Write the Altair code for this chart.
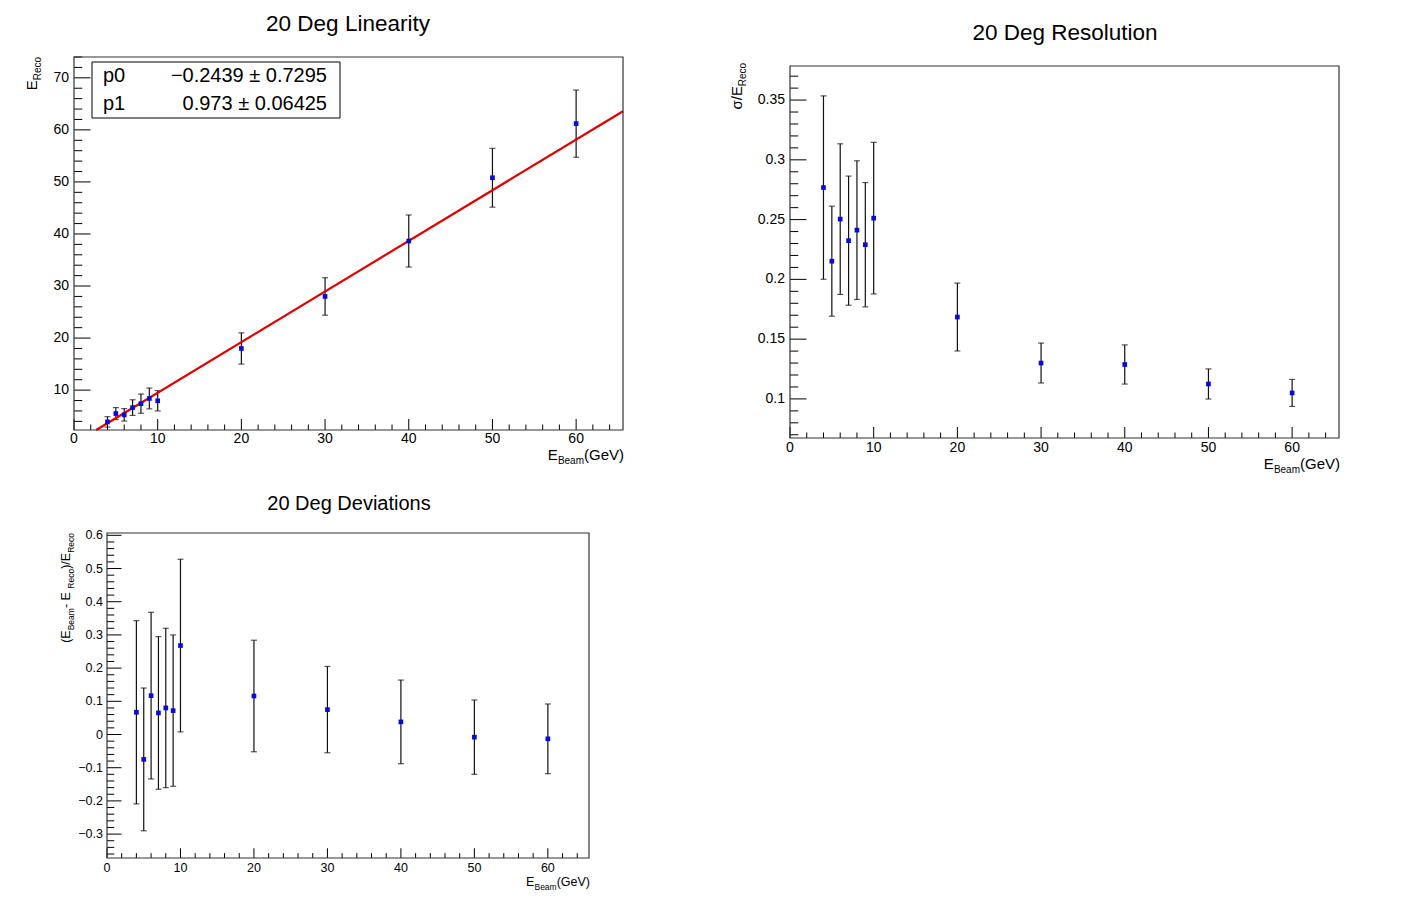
import altair as alt
import pandas as pd

# ---------------- data ----------------
E_BEAM = [4, 5, 6, 7, 8, 9, 10, 20, 30, 40, 50, 60]

LIN_RECO = [3.9, 5.5, 5.25, 6.65, 7.4, 8.4, 7.95, 18.0, 28.0, 38.65, 50.8, 61.2]
LIN_ERR = [1.0, 1.15, 1.2, 1.5, 1.85, 2.0, 1.95, 3.0, 3.6, 5.0, 5.65, 6.45]

RES = [0.2768, 0.2152, 0.2504, 0.2324, 0.2412, 0.229, 0.2512, 0.1685, 0.130, 0.1288, 0.1125, 0.105]
RES_ERR = [0.0767, 0.046, 0.063, 0.054, 0.058, 0.052, 0.0634, 0.0284, 0.0167, 0.0164, 0.0126, 0.0113]

DEV = [0.067, -0.075, 0.117, 0.065, 0.08, 0.072, 0.268, 0.116, 0.075, 0.038, -0.008, -0.013]
DEV_ERR = [0.276, 0.215, 0.251, 0.23, 0.24, 0.228, 0.26, 0.168, 0.13, 0.126, 0.112, 0.105]

FIT_P0, FIT_P0_ERR = -0.2439, 0.7295
FIT_P1, FIT_P1_ERR = 0.973, 0.06425

X_DOMAIN = [0, 65.6]
X_MAJOR = [0, 10, 20, 30, 40, 50, 60]
X_LABELS = ["0", "10", "20", "30", "40", "50", "60"]

LIN_Y_DOMAIN = [2.34, 74.0]
LIN_Y_MAJOR = [10, 20, 30, 40, 50, 60, 70]
LIN_Y_LABELS = ["10", "20", "30", "40", "50", "60", "70"]

RES_Y_DOMAIN = [0.0673, 0.3785]
RES_Y_MAJOR = [0.1, 0.15, 0.2, 0.25, 0.3, 0.35]
RES_Y_LABELS = ["0.1", "0.15", "0.2", "0.25", "0.3", "0.35"]

DEV_Y_DOMAIN = [-0.372, 0.607]
DEV_Y_MAJOR = [-0.3, -0.2, -0.1, 0, 0.1, 0.2, 0.3, 0.4, 0.5, 0.6]
DEV_Y_LABELS = ["\u22120.3", "\u22120.2", "\u22120.1", "0", "0.1", "0.2", "0.3", "0.4", "0.5", "0.6"]

# ---------------- styling helpers ----------------
FONT = "Liberation Sans"
OX, OY = 8, 8
BLUE = "#0a0ad8"
RED = "#e00000"
FRAME = "#333333"

one = pd.DataFrame({"k": [0]})

W = {' ': 0.278, '(': 0.333, ')': 0.333, '/': 0.278, '-': 0.333, 'E': 0.667, 'B': 0.667,
     'R': 0.722, 'G': 0.778, 'V': 0.667, 'e': 0.556, 'a': 0.556, 'm': 0.833, 'c': 0.5,
     'o': 0.556, '\u03c3': 0.6}


def tw(s, size):
    return sum(W.get(ch, 0.556) for ch in s) * size


def px(x):
    return x - OX


def py(y):
    return y - OY


def text_at(x, y, s, size, align="left", baseline="alphabetic", angle=0, color="black"):
    return alt.Chart(one).mark_text(
        text=s, fontSize=size, font=FONT, align=align, baseline=baseline,
        angle=angle, color=color
    ).encode(x=alt.value(px(x)), y=alt.value(py(y)))


def seg_h(segs, x_end, y_base):
    total = sum(tw(t, s) for t, s, _ in segs)
    c = x_end - total
    out = []
    for t, s, sh in segs:
        out.append(text_at(c, y_base + sh, t, s))
        c += tw(t, s)
    return out


def seg_v(segs, x_base, y_top):
    total = sum(tw(t, s) for t, s, _ in segs)
    c = y_top + total
    out = []
    for t, s, sh in segs:
        out.append(text_at(x_base + sh, c, t, s, angle=270))
        c -= tw(t, s)
    return out


def minors(lo, hi, step, majors):
    out = []
    k = 0
    v = round(lo, 6)
    while v <= hi + 1e-9:
        if all(abs(v - m) > 1e-6 for m in majors):
            out.append(v)
        k += 1
        v = round(lo + k * step, 6)
    return out


def panel(frame, ydom, yvals, yerrs, ymaj, ylabs, ystep_minor, ymin_start,
          xtick, ytick, lab_size, xlab_dy, ylab_dx):
    x0, x1, y0, y1 = frame
    xs = alt.Scale(domain=X_DOMAIN, range=[px(x0), px(x1)], nice=False, zero=False)
    ys = alt.Scale(domain=ydom, range=[py(y1), py(y0)], nice=False, zero=False)

    def X(f):
        return alt.X(f, type="quantitative", scale=xs, axis=None)

    def Y(f):
        return alt.Y(f, type="quantitative", scale=ys, axis=None)

    df = pd.DataFrame({"x": E_BEAM, "y": yvals, "e": yerrs})
    df["lo"] = df["y"] - df["e"]
    df["hi"] = df["y"] + df["e"]

    layers = []
    layers.append(alt.Chart(one).mark_rect(fill="white").encode(
        x=alt.value(px(x0)), x2=alt.value(px(x1)), y=alt.value(py(y0)), y2=alt.value(py(y1))))

    # ticks
    xmaj = pd.DataFrame({"v": X_MAJOR, "t": X_LABELS})
    xmin = pd.DataFrame({"v": minors(0, X_DOMAIN[1], 2, X_MAJOR)})
    ymj = pd.DataFrame({"v": ymaj, "t": ylabs})
    ymn = pd.DataFrame({"v": [v for v in minors(ymin_start, ydom[1], ystep_minor, ymaj) if v >= ydom[0]]})

    layers.append(alt.Chart(xmaj).mark_rule(color="black", strokeWidth=1).encode(
        x=X("v"), y=alt.value(py(y1)), y2=alt.value(py(y1) - xtick)))
    layers.append(alt.Chart(xmin).mark_rule(color="black", strokeWidth=1).encode(
        x=X("v"), y=alt.value(py(y1)), y2=alt.value(py(y1) - xtick / 2)))
    layers.append(alt.Chart(ymj).mark_rule(color="black", strokeWidth=1).encode(
        y=Y("v"), x=alt.value(px(x0)), x2=alt.value(px(x0) + ytick)))
    layers.append(alt.Chart(ymn).mark_rule(color="black", strokeWidth=1).encode(
        y=Y("v"), x=alt.value(px(x0)), x2=alt.value(px(x0) + ytick / 2)))

    # tick labels
    layers.append(alt.Chart(xmaj).mark_text(font=FONT, fontSize=lab_size, baseline="middle",
                                            align="center", color="black").encode(
        x=X("v"), y=alt.value(py(y1) + xlab_dy), text="t:N"))
    layers.append(alt.Chart(ymj).mark_text(font=FONT, fontSize=lab_size, baseline="middle",
                                           align="right", color="black").encode(
        y=Y("v"), x=alt.value(px(x0) - ylab_dx), text="t:N"))

    # error bars and caps
    layers.append(alt.Chart(df).mark_rule(color="#111111", strokeWidth=1.2).encode(
        x=X("x"), y=Y("lo"), y2=alt.Y2("hi")))
    layers.append(alt.Chart(df).mark_tick(orient="horizontal", size=6, thickness=1.2,
                                          color="#111111").encode(x=X("x"), y=Y("lo")))
    layers.append(alt.Chart(df).mark_tick(orient="horizontal", size=6, thickness=1.2,
                                          color="#111111").encode(x=X("x"), y=Y("hi")))
    extra = {"X": X, "Y": Y}
    return layers, extra


def pts(df_x, df_y, X, Y):
    d = pd.DataFrame({"x": df_x, "y": df_y})
    return alt.Chart(d).mark_square(size=22, color=BLUE, opacity=1).encode(x=X("x"), y=Y("y"))


def frame_box(frame):
    x0, x1, y0, y1 = frame
    return alt.Chart(one).mark_rect(fillOpacity=0, stroke=FRAME, strokeWidth=1.2).encode(
        x=alt.value(px(x0)), x2=alt.value(px(x1)), y=alt.value(py(y0)), y2=alt.value(py(y1)))


def fmt(v):
    return str(v).replace("-", "\u2212")


all_layers = []

# ---------------- panel 1 : linearity ----------------
F1 = (74, 623, 57, 430)
l1, h1 = panel(F1, LIN_Y_DOMAIN, LIN_RECO, LIN_ERR, LIN_Y_MAJOR, LIN_Y_LABELS, 2, 4,
               11, 16.5, 14, 9, 5)
all_layers += l1
x_start = (LIN_Y_DOMAIN[0] - FIT_P0) / FIT_P1
fit_x = [x_start, X_DOMAIN[1]]
fit_df = pd.DataFrame({"x": fit_x, "y": [FIT_P0 + FIT_P1 * v for v in fit_x]})
all_layers.append(alt.Chart(fit_df).mark_line(color=RED, strokeWidth=2.2).encode(
    x=h1["X"]("x"), y=h1["Y"]("y")))
all_layers.append(pts(E_BEAM, LIN_RECO, h1["X"], h1["Y"]))
all_layers.append(frame_box(F1))
# stats box
all_layers.append(alt.Chart(one).mark_rect(fill="white", stroke="black", strokeWidth=1).encode(
    x=alt.value(px(92)), x2=alt.value(px(340)), y=alt.value(py(62)), y2=alt.value(py(118))))
all_layers.append(text_at(103, 82, "p0", 20))
all_layers.append(text_at(327, 82, f"{fmt(FIT_P0)} \u00b1 {fmt(FIT_P0_ERR)}", 20, align="right"))
all_layers.append(text_at(103, 110, "p1", 20))
all_layers.append(text_at(327, 110, f"{fmt(FIT_P1)} \u00b1 {fmt(FIT_P1_ERR)}", 20, align="right"))
all_layers.append(text_at(348, 24, "20 Deg Linearity", 22.5, align="center", baseline="middle"))
all_layers += seg_h([("E", 15, 0), ("Beam", 10, 4), ("(GeV)", 15, 0)], 624, 460)
all_layers += seg_v([("E", 15, 0), ("Reco", 10, 4)], 37, 57)

# ---------------- panel 2 : resolution ----------------
F2 = (790, 1339, 66, 438)
l2, h2 = panel(F2, RES_Y_DOMAIN, RES, RES_ERR, RES_Y_MAJOR, RES_Y_LABELS, 0.01, 0.07,
               11, 16.5, 14, 10, 5)
all_layers += l2
all_layers.append(pts(E_BEAM, RES, h2["X"], h2["Y"]))
all_layers.append(frame_box(F2))
all_layers.append(text_at(1065, 33, "20 Deg Resolution", 22.5, align="center", baseline="middle"))
all_layers += seg_h([("E", 15, 0), ("Beam", 10, 4), ("(GeV)", 15, 0)], 1340, 469)
all_layers += seg_v([("\u03c3/E", 15, 0), ("Reco", 10, 4)], 742, 63)

# ---------------- panel 3 : deviations ----------------
F3 = (107, 589, 533, 858)
l3, h3 = panel(F3, DEV_Y_DOMAIN, DEV, DEV_ERR, DEV_Y_MAJOR, DEV_Y_LABELS, 0.02, -0.36,
               9.75, 14.5, 12.5, 10, 4)
all_layers += l3
all_layers.append(pts(E_BEAM, DEV, h3["X"], h3["Y"]))
all_layers.append(frame_box(F3))
all_layers.append(text_at(349, 504, "20 Deg Deviations", 20, align="center", baseline="middle"))
all_layers += seg_h([("E", 12.5, 0), ("Beam", 8.5, 3.5), ("(GeV)", 12.5, 0)], 590, 886)
all_layers += seg_v([("(E", 12.5, 0), ("Beam", 8.5, 3.5), (" - E", 12.5, 0), ("Reco", 8.5, 3.5),
                     (")/E", 12.5, 0), ("Reco", 8.5, 3.5)], 70, 533)

chart = alt.layer(*all_layers).resolve_scale(x="independent", y="independent").properties(
    width=1411, height=894, padding=0, autosize=alt.AutoSizeParams(type="none"),
    background="white"
).configure_view(stroke=None)

chart.save("out.html", embed_options={"renderer": "svg", "actions": False})
